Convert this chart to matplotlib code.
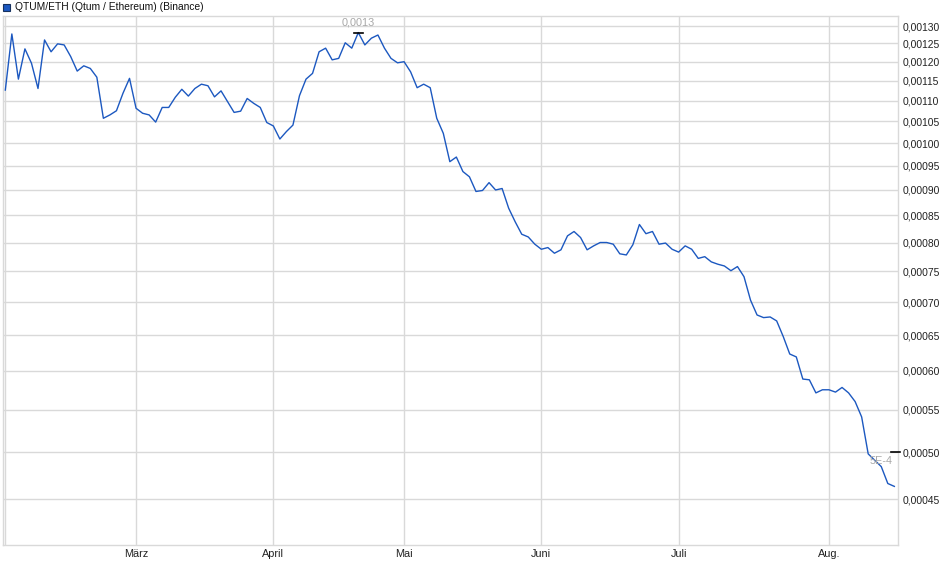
import numpy as np
import pandas as pd
import matplotlib
matplotlib.use('Agg')
from matplotlib import pyplot as plt
from matplotlib.patches import Rectangle
from matplotlib.ticker import FixedLocator, NullLocator

# QTUM/ETH daily closes (trading days, Feb 3 - Aug 15 2025)
qtum_eth = [
    0.001126, 0.001277, 0.001154, 0.001235, 0.001196, 0.001130, 0.001260, 0.001227, 0.001249, 0.001246,
    0.001214, 0.001175, 0.001189, 0.001182, 0.001159, 0.001057, 0.001065, 0.001075, 0.001118, 0.001156,
    0.001081, 0.001069, 0.001065, 0.001048, 0.001083, 0.001083, 0.001108, 0.001128, 0.001111, 0.001130,
    0.001141, 0.001137, 0.001109, 0.001124, 0.001097, 0.001071, 0.001074, 0.001105, 0.001093, 0.001083,
    0.001047, 0.001039, 0.001009, 0.001026, 0.001041, 0.001112, 0.001154, 0.001169, 0.001227, 0.001237,
    0.001205, 0.001209, 0.001252, 0.001237, 0.001281, 0.001246, 0.001265, 0.001274, 0.001237, 0.001209,
    0.001197, 0.001200, 0.001173, 0.001132, 0.001141, 0.001132, 0.001057, 0.001022, 0.000959, 0.000969,
    0.000938, 0.000927, 0.000897, 0.000899, 0.000915, 0.000900, 0.000903, 0.000864, 0.000838, 0.000815,
    0.000810, 0.000797, 0.000788, 0.000791, 0.000781, 0.000787, 0.000812, 0.000820, 0.000809, 0.000787,
    0.000794, 0.000800, 0.000800, 0.000797, 0.000780, 0.000778, 0.000796, 0.000833, 0.000816, 0.000820,
    0.000797, 0.000799, 0.000788, 0.000783, 0.000794, 0.000788, 0.000772, 0.000775, 0.000766, 0.000762,
    0.000759, 0.000751, 0.000758, 0.000741, 0.000703, 0.000680, 0.000676, 0.000677, 0.000671, 0.000648,
    0.000623, 0.000619, 0.000589, 0.000588, 0.000571, 0.000575, 0.000575, 0.000572, 0.000578, 0.000571,
    0.000560, 0.000541, 0.000498, 0.000491, 0.000484, 0.000466, 0.000463,
]

holidays = ['2025-04-18', '2025-04-21', '2025-05-01']
dates = pd.bdate_range('2025-02-03', '2025-08-15')
dates = dates[~dates.isin(pd.to_datetime(holidays))]
assert len(dates) == len(qtum_eth)

month_names = ['März', 'April', 'Mai', 'Juni', 'Juli', 'Aug.']
month_nums = [3, 4, 5, 6, 7, 8]
y_ticks = [0.00045, 0.00050, 0.00055, 0.00060, 0.00065, 0.00070, 0.00075, 0.00080, 0.00085,
           0.00090, 0.00095, 0.00100, 0.00105, 0.00110, 0.00115, 0.00120, 0.00125, 0.00130]

x = np.arange(len(qtum_eth))
vals = np.array(qtum_eth)
# first trading day of each month
month_pos = [int(np.argmax(dates.month == m)) for m in month_nums]

plt.rcParams['font.family'] = ['Liberation Sans', 'DejaVu Sans']

fig = plt.figure(figsize=(9.4, 5.79), dpi=100)
ax = fig.add_axes([2.7 / 940, 1 - 545.3 / 579, (898 - 2.7) / 940, (545.3 - 16) / 579])

grid_c = '#d9d9d9'
ax.plot(x, vals, color='#1c58c0', lw=1.0, zorder=3)

ax.set_yscale('log')
ax.set_ylim(0.0004057, 0.0013295)
ax.set_xlim(-0.4, 136.56)

ax.yaxis.set_major_locator(FixedLocator(y_ticks))
ax.yaxis.set_minor_locator(NullLocator())
ax.set_yticks(y_ticks)
ax.set_yticklabels([f'{v:.5f}'.replace('.', ',') for v in y_ticks])
ax.yaxis.tick_right()
ax.set_xticks(month_pos)
ax.set_xticklabels(month_names)
ax.tick_params(axis='both', length=0, colors='#222222')
ax.tick_params(axis='y', pad=3, labelsize=7.4)
ax.tick_params(axis='x', pad=3, labelsize=7.8)

for v in y_ticks:
    ax.axhline(v, color=grid_c, lw=1, zorder=1)
for p in [0] + month_pos:
    ax.axvline(p, color=grid_c, lw=1, zorder=1)
for s in ax.spines.values():
    s.set_color(grid_c)
    s.set_linewidth(1)

# max marker
imax = int(np.argmax(vals))
vmax = vals[imax]
ax.plot([imax - 0.7, imax + 0.7], [vmax, vmax], color='black', lw=1.2, zorder=4)
ax.annotate(f'{vmax:.2g}'.replace('.', ','), (imax, vmax), xytext=(0, 4), textcoords='offset points',
            ha='center', va='bottom', fontsize=7.8, color='#a8a8a8')

# last value marker
last_r = float(f'{vals[-1]:.0e}')
last_lbl = f'{vals[-1]:.0e}'.upper().replace('E-0', 'E-')
ax.plot([len(vals) - 1 - 0.55, len(vals) - 1 + 0.85], [last_r, last_r], color='black', lw=1.2,
        zorder=4, clip_on=False)
ax.annotate(last_lbl, (len(vals) - 1 - 0.2, last_r), xytext=(0, -3), textcoords='offset points',
            ha='right', va='top', fontsize=7.8, color='#a8a8a8')

# header legend
fig.patches.append(Rectangle((3 / 940, 1 - 11 / 579), 7 / 940, 7 / 579, transform=fig.transFigure,
                             facecolor='#1c58c0', edgecolor='#16315e', lw=0.8))
fig.text(15 / 940, 1 - 7.5 / 579, 'QTUM/ETH (Qtum / Ethereum) (Binance)', fontsize=7.4,
         ha='left', va='center', color='#111111')

fig.savefig('out.png', dpi=100)
